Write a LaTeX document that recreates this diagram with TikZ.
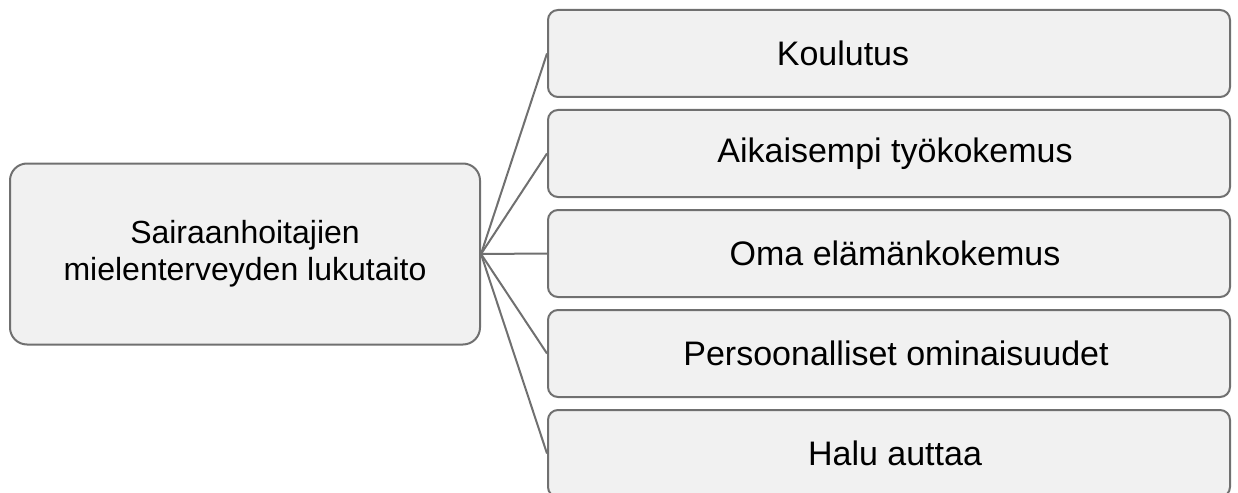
\documentclass[tikz,border=0pt]{standalone}
\usepackage{fontspec}
\setmainfont{Liberation Sans}
\definecolor{edge}{HTML}{707070}
\definecolor{boxfill}{HTML}{F1F1F1}
\begin{document}
\begin{tikzpicture}[x=1pt,y=-1pt,
  box/.style={draw=edge, line width=2pt, fill=boxfill, inner sep=0pt},
  leftbox/.style={box, rounded corners=17pt, minimum width=470pt, minimum height=181pt,
    align=center, font=\fontsize{32}{37}\selectfont},
  rightbox/.style={box, rounded corners=10pt, minimum width=682pt, minimum height=87pt},
  lbl/.style={label={[font=\fontsize{34}{40}\selectfont, xshift=#1]center:}},
  conn/.style={draw=edge, line width=2pt}]
\useasboundingbox (0,0) rectangle (1238,492);
\clip (0,0) rectangle (1238,492);
\node[leftbox] (root) at (245,254) {Sairaanhoitajien\\mielenterveyden lukutaito};
\node[rightbox, label={[font=\fontsize{34}{40}\selectfont, xshift=-46pt]center:Koulutus}] (b1) at (889,53.5) {};
\node[rightbox, label={[font=\fontsize{34}{40}\selectfont, xshift=6pt]center:Aikaisempi työkokemus}] (b2) at (889,153.5) {};
\node[rightbox, label={[font=\fontsize{34}{40}\selectfont, xshift=6pt]center:Oma elämänkokemus}] (b3) at (889,253.5) {};
\node[rightbox, label={[font=\fontsize{34}{40}\selectfont, xshift=7pt]center:Persoonalliset ominaisuudet}] (b4) at (889,353.5) {};
\node[rightbox, label={[font=\fontsize{34}{40}\selectfont, xshift=6pt]center:Halu auttaa}] (b5) at (889,453.5) {};
\foreach \i in {1,...,5} {\draw[conn] (root.east) -- (b\i.west);}
\end{tikzpicture}
\end{document}
